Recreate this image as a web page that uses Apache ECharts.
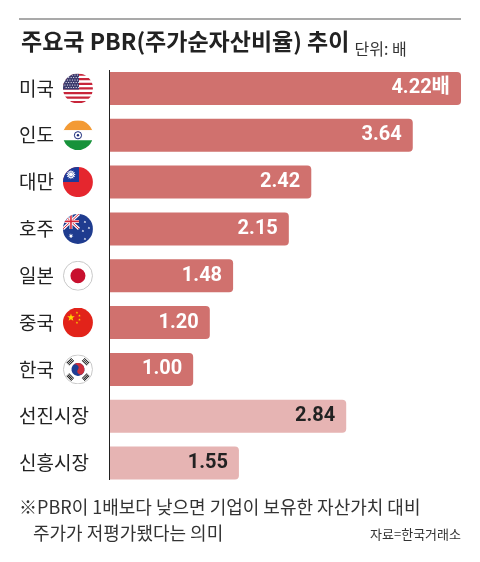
<!DOCTYPE html>
<html><head><meta charset="utf-8">
<script src="https://cdn.jsdelivr.net/npm/echarts@6/dist/echarts.min.js"></script>
<style>html,body{margin:0;padding:0;background:#fff}#c{width:480px;height:562px}</style>
</head><body><div id="c"></div>
<script>
const categories = ['미국','인도','대만','호주','일본','중국','한국','선진시장','신흥시장'];
const values = [4.22, 3.64, 2.42, 2.15, 1.48, 1.20, 1.00, 2.84, 1.55];
const flagKeys = ['us','in','tw','au','jp','cn','kr','',''];
const unitSuffix = '배';
const titleText = '주요국 PBR(주가순자산비율) 추이';
const unitText = '단위: 배';
const noteLine1 = '※PBR이 1배보다 낮으면 기업이 보유한 자산가치 대비';
const noteLine2 = '주가가 저평가됐다는 의미';
const sourceText = '자료=한국거래소';

const FONT = "'Noto Sans CJK KR','Noto Sans',sans-serif";
const NUMFONT = "'Roboto','Noto Sans CJK KR',sans-serif";

function star(cx, cy, ro, ri, n, rot) {
  const pts = [];
  for (let i = 0; i < n * 2; i++) {
    const r = i % 2 ? ri : ro;
    const a = (rot || -Math.PI / 2) + i * Math.PI / n;
    pts.push((cx + r * Math.cos(a)).toFixed(2) + ',' + (cy + r * Math.sin(a)).toFixed(2));
  }
  return pts.join(' ');
}
function wrap(inner, border) {
  return 'data:image/svg+xml;charset=utf-8,' + encodeURIComponent(
    '<svg xmlns="http://www.w3.org/2000/svg" width="60" height="60" viewBox="0 0 30 30">' +
    '<defs><clipPath id="c"><circle cx="15" cy="15" r="15"/></clipPath></defs>' +
    '<g clip-path="url(#c)">' + inner + '</g>' +
    (border ? '<circle cx="15" cy="15" r="14.5" fill="none" stroke="#c8c8c8" stroke-width="1"/>' : '') +
    '</svg>');
}
function usFlag() {
  let s = '<rect width="30" height="30" fill="#fff"/>';
  const h = 30 / 13;
  for (let i = 0; i < 13; i += 2) s += '<rect x="0" y="' + (i * h).toFixed(2) + '" width="30" height="' + h.toFixed(2) + '" fill="#c8253a"/>';
  s += '<rect x="0" y="0" width="16" height="' + (7 * h).toFixed(2) + '" fill="#3c3b6e"/>';
  for (let r = 0; r < 6; r++) for (let c = 0; c < 6; c++) s += '<circle cx="' + (2 + c * 2.5 + (r % 2) * 1.2) + '" cy="' + (1.6 + r * 2.5) + '" r="0.6" fill="#fff"/>';
  return wrap(s);
}
function inFlag() {
  return wrap('<rect width="30" height="10" fill="#f39a34"/><rect y="10" width="30" height="10" fill="#fff"/><rect y="20" width="30" height="10" fill="#17923a"/>' +
    '<circle cx="15" cy="15" r="3.6" fill="none" stroke="#1b2a7a" stroke-width="1"/><circle cx="15" cy="15" r="1.2" fill="#1b2a7a"/>');
}
function twFlag() {
  return wrap('<rect width="30" height="30" fill="#e5262e"/><rect width="16" height="15" fill="#1c3a9a"/>' +
    '<polygon points="' + star(8, 7.5, 4.8, 3, 12) + '" fill="#fff"/><circle cx="8" cy="7.5" r="2.4" fill="#1c3a9a"/><circle cx="8" cy="7.5" r="2" fill="#fff"/>');
}
function auFlag() {
  let s = '<rect width="30" height="30" fill="#1f3c8f"/>';
  s += '<g><line x1="0" y1="0" x2="16" y2="15" stroke="#fff" stroke-width="3"/><line x1="16" y1="0" x2="0" y2="15" stroke="#fff" stroke-width="3"/>' +
    '<line x1="0" y1="0" x2="16" y2="15" stroke="#d8263a" stroke-width="1"/><line x1="16" y1="0" x2="0" y2="15" stroke="#d8263a" stroke-width="1"/>' +
    '<rect x="6.5" y="0" width="3" height="15" fill="#fff"/><rect x="0" y="6" width="16" height="3" fill="#fff"/>' +
    '<rect x="7.2" y="0" width="1.6" height="15" fill="#d8263a"/><rect x="0" y="6.7" width="16" height="1.6" fill="#d8263a"/></g>';
  s += '<polygon points="' + star(8, 22, 2.6, 1.1, 7) + '" fill="#fff"/>';
  s += '<polygon points="' + star(22, 8, 1.4, 0.6, 7) + '" fill="#fff"/>';
  s += '<polygon points="' + star(26, 14, 1.4, 0.6, 7) + '" fill="#fff"/>';
  s += '<polygon points="' + star(20, 17, 1.4, 0.6, 7) + '" fill="#fff"/>';
  s += '<polygon points="' + star(22, 25, 1.4, 0.6, 7) + '" fill="#fff"/>';
  return wrap(s);
}
function jpFlag() {
  return wrap('<rect width="30" height="30" fill="#fff"/><circle cx="15" cy="15" r="7.5" fill="#c8102e"/>', true);
}
function cnFlag() {
  let s = '<rect width="30" height="30" fill="#e2231a"/>';
  s += '<polygon points="' + star(8, 10, 4, 1.6, 5) + '" fill="#ffd800"/>';
  s += '<polygon points="' + star(14, 5, 1.4, 0.55, 5) + '" fill="#ffd800"/>';
  s += '<polygon points="' + star(16.5, 8, 1.4, 0.55, 5) + '" fill="#ffd800"/>';
  s += '<polygon points="' + star(16.5, 12, 1.4, 0.55, 5) + '" fill="#ffd800"/>';
  s += '<polygon points="' + star(14, 15, 1.4, 0.55, 5) + '" fill="#ffd800"/>';
  return wrap(s);
}
function krFlag() {
  let s = '<rect width="30" height="30" fill="#fff"/>';
  s += '<g transform="rotate(33.7 15 15)"><circle cx="15" cy="15" r="6.5" fill="#1f3e93"/>' +
    '<path d="M8.5,15 A6.5,6.5 0 0 1 21.5,15 A3.25,3.25 0 0 1 15,15 A3.25,3.25 0 0 0 8.5,15 Z" fill="#cd2e3a"/></g>';
  const tri = [[-45, 15], [45, 15], [135, 15], [225, 15]];
  tri.forEach(function (t) {
    s += '<g transform="rotate(' + t[0] + ' 15 15)">';
    for (let k = 0; k < 3; k++) s += '<rect x="' + (11.5) + '" y="' + (2.2 + k * 1.5) + '" width="7" height="0.9" fill="#111"/>';
    s += '</g>';
  });
  return wrap(s, true);
}
const flagImages = { us: usFlag(), in: inFlag(), tw: twFlag(), au: auFlag(), jp: jpFlag(), cn: cnFlag(), kr: krFlag() };

const richAxis = { n: { fontSize: 19, color: '#222', fontFamily: FONT, lineHeight: 30 }, sp: { width: 9, height: 30 } };
Object.keys(flagImages).forEach(function (k) {
  richAxis[k] = { width: 30, height: 30, backgroundColor: { image: flagImages[k] } };
});

const darkColor = '#d0716e';
const lightColor = '#e6b4b3';

const chart = echarts.init(document.getElementById('c'), null, { renderer: 'canvas' });
chart.setOption({
  backgroundColor: '#fff',
  animation: false,
  title: {
    text: '{a|' + titleText + '} {b|' + unitText + '}',
    left: 16, top: 20,
    textStyle: {
      fontWeight: 'normal',
      rich: {
        a: { fontSize: 23, fontWeight: 'bold', color: '#222', fontFamily: FONT, lineHeight: 32 },
        b: { fontSize: 16, fontWeight: 'normal', color: '#333', fontFamily: FONT, lineHeight: 28, verticalAlign: 'bottom' }
      }
    }
  },
  grid: { left: 110, right: 19, top: 65, height: 421.5, containLabel: false },
  xAxis: { type: 'value', min: 0, max: 4.22, show: false },
  yAxis: {
    type: 'category', data: categories, inverse: true,
    axisLine: { show: false }, axisTick: { show: false },
    axisLabel: {
      margin: 91, align: 'left',
      formatter: function (v, i) {
        const k = flagKeys[i];
        return '{n|' + v + '}' + (k ? '{sp|}{' + k + '|}' : '');
      },
      rich: richAxis
    }
  },
  series: [{
    type: 'bar', barWidth: 33,
    data: values.map(function (v, i) {
      const dark = i < 7;
      return {
        value: v,
        itemStyle: { color: dark ? darkColor : lightColor, borderRadius: [0, 4, 4, 0] },
        label: { color: dark ? '#fff' : '#222' }
      };
    }),
    label: {
      show: true, position: 'insideRight', distance: 11,
      fontSize: 20, fontWeight: 'bold', fontFamily: NUMFONT,
      formatter: function (p) { return p.value.toFixed(2) + (p.dataIndex === 0 ? unitSuffix : ''); }
    }
  }],
  graphic: [
    { type: 'line', shape: { x1: 19, y1: 19, x2: 461, y2: 19 }, style: { stroke: '#555', lineWidth: 1.2 } },
    { type: 'line', shape: { x1: 109.5, y1: 70, x2: 109.5, y2: 480 }, style: { stroke: '#222', lineWidth: 1 } },
    { type: 'text', left: 19, top: 498, style: { text: noteLine1, fontSize: 18, fill: '#333', fontFamily: FONT } },
    { type: 'text', left: 33, top: 524, style: { text: noteLine2, fontSize: 18, fill: '#333', fontFamily: FONT } },
    { type: 'text', right: 19, top: 528, style: { text: sourceText, fontSize: 13, fill: '#333', fontFamily: FONT } }
  ]
});
</script></body></html>
